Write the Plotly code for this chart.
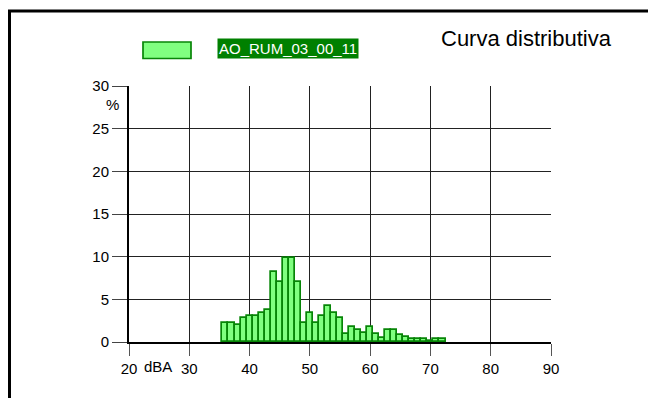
import plotly.graph_objects as go

# ---- data ----
levels_dba = list(range(36, 73))
percent = [2.2, 2.2, 2.0, 2.8, 3.1, 3.1, 3.4, 3.7, 8.2, 7.0,
           9.9, 9.9, 7.0, 2.2, 3.4, 2.2, 3.1, 4.2, 3.4, 2.8,
           0.9, 1.7, 1.4, 1.1, 1.7, 0.9, 0.5, 1.4, 1.4, 0.8,
           0.6, 0.3, 0.3, 0.3, 0.1, 0.3, 0.3]
x_ticks = [20, 30, 40, 50, 60, 70, 80, 90]
y_ticks = [0, 5, 10, 15, 20, 25, 30]
series_name = "AO_RUM_03_00_11"
chart_title = "Curva distributiva"

# the page body adds an 8px margin; work in page pixels and convert
OFF = 8
W, H = 656 - OFF, 398 - OFF
PL, PR, PT, PB = 129, 551, 86, 342          # plot area in page pixels
L, T = PL - OFF, PT - OFF
R, B = W - (PR - OFF), H - (PB - OFF)
PW, PH = PR - PL, PB - PT


def px(x):
    return (x - PL) / PW


def py(y):
    return (PB - y) / PH


FONT = "Liberation Sans, Arial, sans-serif"

fig = go.Figure()
fig.add_trace(go.Bar(
    x=levels_dba, y=percent, width=1,
    marker=dict(color="#80ff80", line=dict(color="#078507", width=1.7)),
    name=series_name, showlegend=False,
))

fig.update_layout(
    width=W, height=H,
    margin=dict(l=L, r=R, t=T, b=B, pad=0),
    paper_bgcolor="white", plot_bgcolor="white",
    bargap=0,
    font=dict(family=FONT, size=15, color="black"),
    xaxis=dict(range=[20, 90], tickvals=x_ticks, ticktext=[str(v) for v in x_ticks],
               showgrid=True, gridcolor="#222", gridwidth=1,
               showline=True, linecolor="black", linewidth=2,
               ticks="outside", ticklen=12, tickcolor="#555", tickwidth=1,
               zeroline=False, tickfont=dict(size=15, family=FONT)),
    yaxis=dict(range=[0, 30], tickvals=y_ticks,
               showgrid=True, gridcolor="#222", gridwidth=1,
               showline=True, linecolor="black", linewidth=2,
               ticks="outside", ticklen=15, tickcolor="#444", tickwidth=1,
               zeroline=False, tickfont=dict(size=15, family=FONT)),
    shapes=[
        dict(type="rect", xref="paper", yref="paper",
             x0=px(9.5), x1=px(720), y0=py(11), y1=py(440),
             line=dict(color="black", width=3), fillcolor="rgba(0,0,0,0)", layer="above"),
        dict(type="rect", xref="paper", yref="paper",
             x0=px(143), x1=px(191), y0=py(58.5), y1=py(42),
             line=dict(color="#078507", width=1.7), fillcolor="#80ff80"),
    ],
    annotations=[
        dict(text=series_name, xref="paper", yref="paper", x=px(288), y=py(48.3),
             xanchor="center", yanchor="middle", showarrow=False,
             bgcolor="#008000", borderpad=1,
             font=dict(family=FONT, size=15, color="white")),
        dict(text=chart_title, xref="paper", yref="paper", x=px(526.5), y=py(38),
             xanchor="center", yanchor="middle", showarrow=False,
             font=dict(family=FONT, size=22, color="black")),
        dict(text="%", xref="paper", yref="paper", x=px(112), y=py(104),
             xanchor="center", yanchor="middle", showarrow=False,
             font=dict(family=FONT, size=15, color="black")),
        dict(text="dBA", xref="paper", yref="paper", x=px(158), y=py(366),
             xanchor="center", yanchor="middle", showarrow=False,
             font=dict(family=FONT, size=15, color="black")),
    ],
)

fig.write_html("out.html")
